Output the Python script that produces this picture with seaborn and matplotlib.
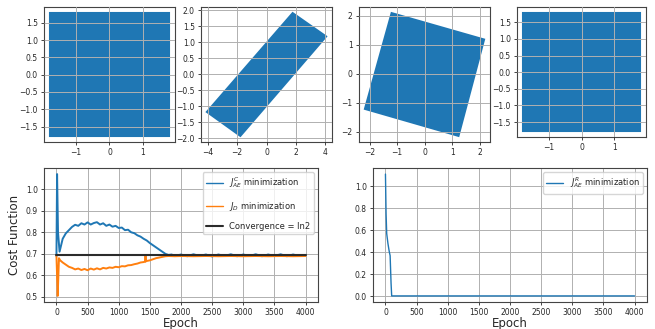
import numpy as np
import pandas as pd
import seaborn as sns
import matplotlib
matplotlib.use("Agg")
import matplotlib.pyplot as plt

# outlines of the four point clouds (corners)
sq_x = [-1.78, 1.78, 1.78, -1.78]
sq_y = [-1.77, -1.77, 1.78, 1.78]
long_x = [-4.05, -1.78, 4.05, 1.78]
long_y = [-1.18, -1.93, 1.18, 1.91]
rot_x = [-2.17, 1.23, 2.16, -1.20]
rot_y = [-1.21, -2.14, 1.18, 2.09]

tick_sq = [-1, 0, 1]
tick_sq_y = [-1.5, -1.0, -0.5, 0.0, 0.5, 1.0, 1.5]
tick_long_x = [-4, -2, 0, 2, 4]
tick_long_y = [-2.0, -1.5, -1.0, -0.5, 0.0, 0.5, 1.0, 1.5, 2.0]
tick_rot = [-2, -1, 0, 1, 2]

# cost curves
ep_c = [0, 10, 25, 50, 75, 100, 150, 200, 250, 300, 350, 400, 450, 500, 550, 600,
        650, 700, 750, 800, 850, 900, 950, 1000, 1050, 1100, 1150, 1200, 1250, 1300,
        1350, 1400, 1450, 1500, 1550, 1600, 1650, 1700, 1750, 1800, 1850, 1900, 2000,
        2100, 2200, 2300, 2400, 2500, 2600, 2700, 2800, 2900, 3000, 3100, 3200, 3300,
        3400, 3500, 3600, 3700, 3800, 3900, 4000]
j_ae_c = [0.69, 1.07, 0.80, 0.71, 0.74, 0.77, 0.795, 0.81, 0.825, 0.835, 0.83, 0.842,
          0.836, 0.846, 0.836, 0.843, 0.847, 0.836, 0.842, 0.83, 0.836, 0.826, 0.83,
          0.82, 0.822, 0.81, 0.812, 0.80, 0.796, 0.786, 0.78, 0.77, 0.762, 0.75,
          0.74, 0.73, 0.72, 0.71, 0.70, 0.695, 0.697, 0.69, 0.697, 0.689, 0.698,
          0.69, 0.697, 0.688, 0.697, 0.69, 0.698, 0.689, 0.697, 0.69, 0.698, 0.689,
          0.697, 0.69, 0.698, 0.689, 0.697, 0.69, 0.695]

ep_d = [0, 10, 20, 40, 60, 100, 150, 200, 250, 300, 350, 400, 450, 500, 550, 600,
        650, 700, 750, 800, 850, 900, 950, 1000, 1050, 1100, 1150, 1200, 1250, 1300,
        1350, 1400, 1425, 1430, 1435, 1450, 1500, 1550, 1600, 1650, 1700, 1750, 1800,
        1900, 2000, 2200, 2400, 2600, 2800, 3000, 3200, 3400, 3600, 3800, 4000]
j_d = [0.69, 0.60, 0.505, 0.68, 0.67, 0.66, 0.65, 0.64, 0.635, 0.628, 0.632, 0.625,
       0.63, 0.624, 0.632, 0.627, 0.633, 0.628, 0.635, 0.632, 0.637, 0.635, 0.64,
       0.638, 0.643, 0.642, 0.647, 0.648, 0.652, 0.655, 0.66, 0.662, 0.664, 0.69,
       0.665, 0.667, 0.67, 0.675, 0.68, 0.683, 0.686, 0.689, 0.69, 0.689, 0.69,
       0.689, 0.69, 0.689, 0.69, 0.689, 0.69, 0.689, 0.69, 0.689, 0.69]

ep_line = [0, 4000]
ln2 = [0.693, 0.693]

ep_r = [0, 10, 20, 40, 60, 75, 90, 100, 200, 500, 1000, 1500, 2000, 2500, 3000,
        3500, 4000]
j_ae_r = [1.11, 0.75, 0.57, 0.48, 0.41, 0.37, 0.12, 0.005, 0.005, 0.005, 0.005,
          0.005, 0.005, 0.005, 0.005, 0.005, 0.005]

tick_ep = [0, 500, 1000, 1500, 2000, 2500, 3000, 3500, 4000]

sns.set_style("ticks", {"axes.grid": True, "grid.color": "#b0b0b0",
                        "axes.edgecolor": "#444444"})
plt.rcParams.update({"xtick.labelsize": 5.5, "ytick.labelsize": 5.5,
                     "xtick.major.size": 2.5, "ytick.major.size": 2.5,
                     "xtick.major.width": 0.6, "ytick.major.width": 0.6,
                     "xtick.major.pad": 1.5, "ytick.major.pad": 2,
                     "axes.linewidth": 0.8, "grid.linewidth": 0.7})

fig = plt.figure(figsize=(6.55, 3.29), dpi=100)
W, H = 655.0, 329.0


def box(l, r, t, b):
    return [l / W, 1 - b / H, (r - l) / W, (b - t) / H]


blue = "#1f77b4"
ax1 = fig.add_axes(box(44, 175, 7, 142))
ax2 = fig.add_axes(box(201, 332, 7, 142))
ax3 = fig.add_axes(box(359, 490, 7, 142))
ax4 = fig.add_axes(box(517, 646, 7, 137))

for ax, xs, ys in [(ax1, sq_x, sq_y), (ax2, long_x, long_y),
                   (ax3, rot_x, rot_y), (ax4, sq_x, sq_y)]:
    ax.fill(xs, ys, color=blue, ec=blue, lw=1.5, zorder=1)
    ax.set_axisbelow(False)

for ax in (ax1, ax4):
    ax.set_xticks(tick_sq)
    ax.set_yticks(tick_sq_y)
ax2.set_xticks(tick_long_x)
ax2.set_yticks(tick_long_y)
ax3.set_xticks(tick_rot)
ax3.set_yticks(tick_rot)

ax5 = fig.add_axes(box(44, 318, 168, 302))
ax6 = fig.add_axes(box(373, 647, 168, 302))

sns.lineplot(x=ep_c, y=j_ae_c, ax=ax5, color=blue, lw=1.4,
             label=r"$J^{C}_{AE}$ minimization")
sns.lineplot(x=ep_d, y=j_d, ax=ax5, color="#ff7f0e", lw=1.4,
             label=r"$J_D$ minimization")
sns.lineplot(x=ep_line, y=ln2, ax=ax5, color="#2b2b2b", lw=1.5,
             label="Convergence = ln2")
ax5.set_xlabel("Epoch", fontsize=8.5, labelpad=0)
ax5.set_ylabel("Cost Function", fontsize=8.5, labelpad=3)
ax5.set_xticks(tick_ep)
leg = ax5.legend(loc="upper right", fontsize=6, labelspacing=1.1)
for h in leg.get_lines()[:2]:
    h.set_linewidth(1.0)

sns.lineplot(x=ep_r, y=j_ae_r, ax=ax6, color=blue, lw=1.0,
             label=r"$J^{R}_{AE}$ minimization")
ax6.set_xlabel("Epoch", fontsize=8.5, labelpad=0)
ax6.set_xticks(tick_ep)
ax6.set_yticks([0.0, 0.2, 0.4, 0.6, 0.8, 1.0])
ax6.legend(loc="upper right", fontsize=6)

for ax in (ax1, ax2, ax3, ax4, ax5, ax6):
    for s in ax.spines.values():
        s.set_visible(True)

fig.savefig("out.png", dpi=100)
